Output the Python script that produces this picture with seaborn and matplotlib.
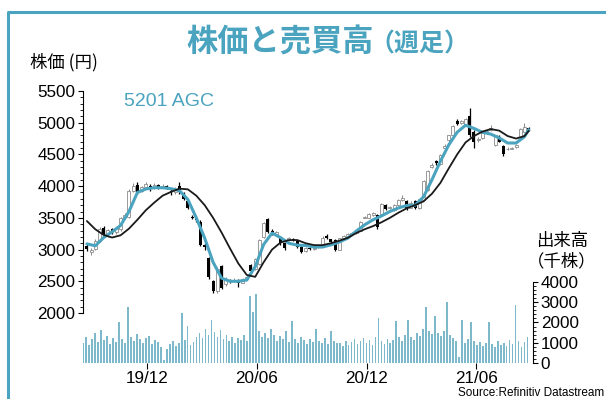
import numpy as np
import pandas as pd
import matplotlib
matplotlib.use("Agg")
import matplotlib.pyplot as plt
import matplotlib.dates as mdates
from matplotlib.lines import Line2D
from matplotlib.ticker import FixedLocator
import seaborn as sns

# ---------------- data ----------------
week_start = "2019-08-23"   # first weekly candle (Friday)

opens = [3060, 2960, 3010, 3140, 3340, 3240, 3320, 3270, 3320, 3510,
         3520, 3930, 4020, 3920, 3980, 4010, 3970, 4020, 3990, 4000,
         3930, 3900, 4000, 3880, 3760, 3520, 3480, 3440, 3080, 2860,
         2500, 2340, 2740, 2450, 2520, 2500, 2520, 2480, 2530, 2750,
         2700, 2780, 3200, 3480, 3300, 3240, 3200, 3100, 3150, 3160,
         3140, 3040, 2970, 3030, 3010, 3040, 3060, 3220, 3160, 3150,
         3000, 3180, 3210, 3240, 3260, 3300, 3500, 3500, 3540, 3540,
         3560, 3700, 3650, 3620, 3700, 3780, 3760, 3660, 3760, 3650,
         3780, 3940, 4300, 4400, 4350, 4600, 4720, 4800, 5030, 4990,
         4980, 5100, 4860, 4720, 4760, 4840, 4880, 4650, 4780, 4640,
         4580, 4590, 4610, 4780, 4860, 4920]
highs = [3090, 3020, 3160, 3360, 3370, 3330, 3340, 3360, 3520, 3580,
         3950, 4050, 4060, 4010, 4060, 4040, 4050, 4040, 4030, 4020,
         3950, 3980, 4070, 3900, 3780, 3540, 3500, 3460, 3100, 2880,
         2520, 2720, 2760, 2560, 2540, 2550, 2530, 2550, 2580, 2770,
         2870, 3170, 3440, 3500, 3320, 3290, 3220, 3120, 3200, 3180,
         3150, 3050, 3040, 3040, 3050, 3070, 3210, 3240, 3170, 3170,
         3190, 3230, 3260, 3280, 3310, 3450, 3530, 3580, 3600, 3560,
         3740, 3720, 3690, 3720, 3800, 3860, 3780, 3760, 3780, 3800,
         4100, 4260, 4360, 4420, 4500, 4660, 4810, 4970, 5060, 5050,
         5080, 5230, 4880, 4780, 4860, 4890, 4960, 4810, 4800, 4650,
         4610, 4610, 4660, 4920, 4990, 4940]
lows = [2980, 2920, 2990, 3120, 3230, 3200, 3250, 3250, 3300, 3480,
        3500, 3900, 3880, 3900, 3950, 3930, 3950, 3960, 3970, 3950,
        3860, 3880, 3880, 3780, 3640, 3480, 3440, 3060, 3000, 2540,
        2320, 2320, 2380, 2430, 2480, 2490, 2410, 2470, 2520, 2640,
        2680, 2760, 3180, 3260, 3230, 3220, 3080, 3000, 3140, 3130,
        3020, 2940, 2960, 2990, 3000, 3030, 3050, 3170, 3110, 2970,
        2990, 3170, 3200, 3230, 3250, 3290, 3490, 3490, 3530, 3330,
        3550, 3630, 3640, 3610, 3690, 3770, 3630, 3650, 3640, 3640,
        3770, 3930, 4290, 4340, 4340, 4590, 4700, 4790, 4960, 4980,
        4970, 4780, 4600, 4690, 4740, 4820, 4870, 4630, 4690, 4480,
        4570, 4580, 4600, 4770, 4850, 4870]
closes = [3010, 3000, 3130, 3330, 3250, 3310, 3270, 3340, 3500, 3550,
          3920, 4010, 3910, 3990, 4030, 3960, 4020, 3980, 4000, 3970,
          3900, 3950, 3900, 3800, 3660, 3500, 3460, 3080, 3040, 2560,
          2350, 2700, 2400, 2530, 2510, 2520, 2470, 2530, 2560, 2660,
          2850, 3150, 3420, 3280, 3250, 3270, 3100, 3020, 3180, 3150,
          3040, 2960, 3020, 3010, 3030, 3060, 3190, 3180, 3120, 2990,
          3180, 3210, 3250, 3260, 3300, 3430, 3510, 3560, 3580, 3350,
          3720, 3640, 3670, 3700, 3780, 3820, 3640, 3740, 3660, 3790,
          4080, 4240, 4340, 4360, 4490, 4640, 4800, 4950, 4980, 5020,
          5060, 4800, 4700, 4750, 4840, 4870, 4920, 4800, 4700, 4500,
          4590, 4600, 4650, 4900, 4930, 4880]

# moving averages sampled every second week (weeks 0,2,...,104 and 105)
ma_short = [3090, 3060, 3190, 3280, 3380, 3600, 3900, 3955, 3975, 3975,
            3960, 3930, 3790, 3500, 3180, 2800, 2550, 2500, 2500, 2520,
            2730, 3080, 3260, 3190, 3100, 3070, 3065, 3040, 3040, 3075,
            3120, 3180, 3290, 3390, 3470, 3530, 3600, 3655, 3695, 3700,
            3830, 4100, 4390, 4650, 4850, 4960, 4910, 4850, 4820, 4760,
            4680, 4680, 4780, 4890]
ma_long = [3450, 3320, 3230, 3190, 3225, 3330, 3470, 3620, 3740, 3850,
           3910, 3960, 3950, 3850, 3700, 3500, 3270, 3020, 2780, 2600,
           2570, 2800, 3000, 3110, 3150, 3150, 3100, 3070, 3070, 3100,
           3140, 3185, 3260, 3320, 3370, 3430, 3500, 3580, 3650, 3700,
           3760, 3880, 4050, 4280, 4500, 4690, 4790, 4860, 4900, 4875,
           4790, 4750, 4790, 4870]

vol_start, vol_end = "2019-08-17", "2021-08-25"
volume = [1000, 1300, 900, 1200, 1500, 1050, 1650, 1150, 1350, 950,
          1250, 1050, 2000, 1200, 1000, 2750, 1300, 1100, 1450, 1200,
          1000, 1250, 1350, 950, 1150, 1050, 800, 150, 700, 950,
          1100, 850, 1000, 2450, 1150, 1850, 900, 1050, 1300, 1500,
          1250, 1700, 1400, 2100, 1550, 1300, 1650, 1200, 1400, 1100,
          1300, 1000, 1250, 1150, 1400, 1100, 3300, 2500, 3400, 1600,
          1300, 1500, 1250, 1700, 1400, 1100, 1350, 1200, 1600, 1050,
          2050, 1200, 1000, 1300, 1150, 950, 1200, 1050, 1700, 1100,
          1000, 1250, 950, 1600, 1100, 1000, 1000, 850, 1100, 900,
          1050, 1200, 950, 1100, 1250, 1000, 1150, 900, 1300, 2200,
          1100, 950, 1200, 1000, 1150, 2050, 1300, 1100, 1400, 2100,
          1300, 1150, 1500, 1350, 1700, 2750, 1600, 1450, 2300, 1500,
          1350, 1600, 3000, 1400, 1250, 1100, 300, 2100, 1000, 1200,
          2000, 1100, 900, 1050, 850, 1000, 2000, 950, 800, 1100,
          900, 1000, 850, 1150, 950, 2850, 1100, 800, 1050, 1300]

price_ticks = [2000, 2500, 3000, 3500, 4000, 4500, 5000, 5500]
vol_ticks = [0, 1000, 2000, 3000, 4000]
x_tick_dates = ["2019-12-01", "2020-06-01", "2020-12-01", "2021-06-01"]
x_tick_labels = ["19/12", "20/06", "20/12", "21/06"]

# ---------------- style ----------------
sns.set_theme(style="white")
plt.rcParams["font.family"] = ["Liberation Sans", "Noto Sans CJK JP", "DejaVu Sans"]
TEAL = "#4aa3bf"
CJK = ["Noto Sans CJK JP", "DejaVu Sans"]

W, H = 606, 399
fig = plt.figure(figsize=(W / 100, H / 100), dpi=100)
fig.patch.set_facecolor("white")


def fx(px):
    return px / W


def fy(py):
    return 1 - py / H


rect = [fx(83), fy(363), fx(533) - fx(83), fy(91) - fy(363)]
ax_v = fig.add_axes(rect)
ax = fig.add_axes(rect)
ax.patch.set_alpha(0)

# x scale
d = mdates.date2num(pd.to_datetime(x_tick_dates))
ppd = 110 / 183.0
x0 = d[0] - (147 - 83) / ppd
x1 = d[0] + (533 - 147) / ppd

# ---------------- volume ----------------
vdates = mdates.date2num(pd.date_range(vol_start, vol_end, periods=len(volume)))
ax_v.bar(vdates, volume, width=2.9, color="#7db8cb", linewidth=0)
ax_v.set_ylim(0, 13432)
ax_v.set_xlim(x0, x1)
for s in ["top", "left", "bottom"]:
    ax_v.spines[s].set_visible(False)
ax_v.spines["right"].set_bounds(0, 4000)
ax_v.spines["right"].set_color("black")
ax_v.spines["right"].set_linewidth(0.8)
ax_v.yaxis.tick_right()
ax_v.set_yticks(vol_ticks)
ax_v.yaxis.set_minor_locator(FixedLocator(np.arange(0, 4001, 200)))
ax_v.tick_params(axis="y", which="both", direction="out", colors="black",
                 right=True, left=False, labelsize=12.3, pad=2)
ax_v.tick_params(axis="y", which="major", length=3.5, width=0.8)
ax_v.tick_params(axis="y", which="minor", length=2, width=0.6)
ax_v.set_xticks(d)
ax_v.set_xticklabels(x_tick_labels)
ax_v.tick_params(axis="x", direction="out", length=4, width=0.8, bottom=True,
                 colors="black", labelsize=12.3, pad=2)
ax_v.set_ylabel("")
ax_v.grid(False)

# ---------------- candles ----------------
o, h, l, c = (np.array(v, dtype=float) for v in (opens, highs, lows, closes))
wd = mdates.date2num(pd.date_range(week_start, periods=len(closes), freq="7D"))
up = c >= o
ax.vlines(wd[up], l[up], h[up], color="#8a8a8a", lw=0.7, zorder=2)
ax.vlines(wd[~up], l[~up], h[~up], color="black", lw=0.9, zorder=2)
ax.bar(wd[up], np.maximum(c - o, 8)[up], bottom=o[up], width=5,
       facecolor="white", edgecolor="#8a8a8a", linewidth=0.6, zorder=3)
ax.bar(wd[~up], np.maximum(o - c, 8)[~up], bottom=c[~up], width=5,
       color="black", linewidth=0, zorder=3)

# ---------------- moving averages ----------------
ma_idx = list(range(0, len(closes) - 1, 2)) + [len(closes) - 1]
ma_df = pd.DataFrame({"x": wd[ma_idx], "short": ma_short, "long": ma_long})
sns.lineplot(data=ma_df, x="x", y="short", ax=ax, color=TEAL, lw=2.2, zorder=5)
sns.lineplot(data=ma_df, x="x", y="long", ax=ax, color="#1a1a1a", lw=1.3, zorder=6)

ax.set_xlim(x0, x1)
ax.set_ylim(1212, 5500)
ax.set_xlabel("")
ax.set_ylabel("")
for s in ["top", "right", "bottom"]:
    ax.spines[s].set_visible(False)
ax.spines["left"].set_bounds(2000, 5500)
ax.spines["left"].set_color("black")
ax.spines["left"].set_linewidth(0.8)
ax.set_yticks(price_ticks)
ax.yaxis.set_minor_locator(FixedLocator(np.arange(2000, 5501, 100)))
ax.tick_params(axis="y", which="both", direction="out", colors="black",
               left=True, labelsize=12.3, pad=2)
ax.tick_params(axis="y", which="major", length=3.5, width=0.8)
ax.tick_params(axis="y", which="minor", length=2, width=0.6)
ax.set_xticks([])
ax.grid(False)

# ---------------- texts & frame ----------------
fig.add_artist(Line2D([fx(8), fx(8), 1.0], [0, fy(12), fy(12)],
                      transform=fig.transFigure, color=TEAL, lw=2.2))
fig.text(fx(280), fy(43), "株価と売買高", ha="center", va="center",
         fontsize=22.5, fontweight="bold", color=TEAL, family=CJK)
fig.text(fx(369), fy(45), "（週足）", ha="left", va="center",
         fontsize=18, fontweight="bold", color=TEAL, family=CJK)
fig.text(fx(30), fy(62), "株価 (円)", ha="left", va="center",
         fontsize=12.5, color="black", family=CJK)
fig.text(fx(124), fy(101), "5201 AGC", ha="left", va="center",
         fontsize=14, color=TEAL)
fig.text(fx(562), fy(241), "出来高", ha="center", va="center",
         fontsize=12.5, color="black", family=CJK)
fig.text(fx(562), fy(261), "（千株）", ha="center", va="center",
         fontsize=12.5, color="black", family=CJK)
fig.text(fx(604), fy(393), "Source:Refinitiv Datastream", ha="right",
         va="center", fontsize=8.5, color="black")

fig.savefig("out.png", dpi=100, facecolor="white")
